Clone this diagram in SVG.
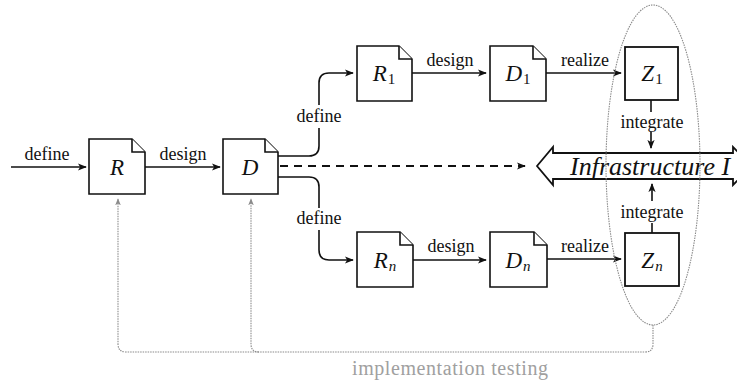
<svg xmlns="http://www.w3.org/2000/svg" width="737" height="381" viewBox="0 0 737 381">
  <style>
    .doc { fill: #fff; stroke: #111; stroke-width: 1.6; stroke-linejoin: miter; }
    .box { fill: #fff; stroke: #111; stroke-width: 1.8; }
    .edge { fill: none; stroke: #111; stroke-width: 1.6; }
    .dash { fill: none; stroke: #111; stroke-width: 1.8; stroke-dasharray: 8 6; }
    .test { fill: none; stroke: #8a8a8a; stroke-width: 1.1; stroke-dasharray: 1.5 1; }
    text { font-family: Liberation Serif, DejaVu Serif, serif; }
    .lbl { font-size: 18px; fill: #111; text-anchor: middle; }
    .math { font-size: 23px; font-style: italic; fill: #111; text-anchor: middle; }
    .sub { font-style: normal; font-size: 15px; }
    .subi { font-style: italic; font-size: 15px; }
  </style>
  <defs>
    <marker id="arr" viewBox="0 0 10 10" refX="9" refY="5" markerWidth="9" markerHeight="9" markerUnits="userSpaceOnUse" orient="auto">
      <path d="M0,1 L10,5 L0,9 L2.5,5 Z" fill="#111"/>
    </marker>
    <marker id="arrg" viewBox="0 0 10 10" refX="9" refY="5" markerWidth="7" markerHeight="7" markerUnits="userSpaceOnUse" orient="auto">
      <path d="M0,1 L10,5 L0,9 L2.5,5 Z" fill="#8a8a8a"/>
    </marker>
  </defs>

  <!-- connectors -->
  <g id="connectors">
    <path class="edge" d="M11,167 H86" marker-end="url(#arr)"/>
    <text class="lbl" x="47" y="160">define</text>

    <path class="edge" d="M145,167 H220" marker-end="url(#arr)"/>
    <text class="lbl" x="183" y="160">design</text>

    <!-- branch to R1 -->
    <path class="edge" d="M278,156 H309 Q319,156 319,146 V128"/>
    <path class="edge" d="M319,105 V83 Q319,73 329,73 H353" marker-end="url(#arr)"/>
    <text class="lbl" x="319" y="122">define</text>

    <!-- branch to Rn -->
    <path class="edge" d="M278,177 H309 Q319,177 319,187 V208"/>
    <path class="edge" d="M319,230 V250 Q319,260 329,260 H353" marker-end="url(#arr)"/>
    <text class="lbl" x="319" y="224">define</text>

    <!-- dashed link to the infrastructure -->
    <path class="dash" d="M280,166 H525" marker-end="url(#arr)"/>

    <path class="edge" d="M412,73 H486" marker-end="url(#arr)"/>
    <text class="lbl" x="450" y="66">design</text>
    <path class="edge" d="M546,73 H621" marker-end="url(#arr)"/>
    <text class="lbl" x="585" y="66">realize</text>

    <path class="edge" d="M413,260 H486" marker-end="url(#arr)"/>
    <text class="lbl" x="451" y="252">design</text>
    <path class="edge" d="M547,259 H621" marker-end="url(#arr)"/>
    <text class="lbl" x="585" y="252">realize</text>

    <!-- integrate -->
    <path class="edge" d="M651,100 V112"/>
    <path class="edge" d="M651,132 V148" marker-end="url(#arr)"/>
    <text class="lbl" x="652" y="128">integrate</text>
    <path class="edge" d="M652,233 V223"/>
    <path class="edge" d="M652,201 V184" marker-end="url(#arr)"/>
    <text class="lbl" x="652" y="218">integrate</text>

    <!-- implementation testing feedback -->
    <path class="test" d="M653,325 V344 Q653,352 645,352 H126 Q118,352 118,344 V199" marker-end="url(#arrg)"/>
    <path class="test" d="M259,352 Q251,352 251,344 V199" marker-end="url(#arrg)"/>
    <text x="450" y="375" font-size="20" fill="#a0a0a0" text-anchor="middle" textLength="196" lengthAdjust="spacing">implementation testing</text>
  </g>

  <!-- requirement R -->
  <g id="R">
    <path class="doc" d="M89,139 H132 L145,152 V194 H89 Z"/>
    <path class="doc" d="M132,139 V152 H145" fill="none"/>
    <text class="math" x="117" y="175">R</text>
  </g>

  <!-- design D -->
  <g id="D">
    <path class="doc" d="M223,139 H265 L278,152 V194 H223 Z"/>
    <path class="doc" d="M265,139 V152 H278" fill="none"/>
    <text class="math" x="250" y="175">D</text>
  </g>

  <g id="R1">
    <path class="doc" d="M357,46 H399 L412,59 V101 H357 Z"/>
    <path class="doc" d="M399,46 V59 H412" fill="none"/>
    <text class="math" x="384" y="81">R<tspan class="sub" dx="1" dy="3">1</tspan></text>
  </g>

  <g id="D1">
    <path class="doc" d="M490,46 H533 L546,59 V101 H490 Z"/>
    <path class="doc" d="M533,46 V59 H546" fill="none"/>
    <text class="math" x="518" y="81">D<tspan class="sub" dx="1" dy="3">1</tspan></text>
  </g>

  <g id="Rn">
    <path class="doc" d="M357,232 H400 L413,245 V287 H357 Z"/>
    <path class="doc" d="M400,232 V245 H413" fill="none"/>
    <text class="math" x="385" y="268">R<tspan class="subi" dx="1" dy="3">n</tspan></text>
  </g>

  <g id="Dn">
    <path class="doc" d="M490,232 H534 L547,245 V287 H490 Z"/>
    <path class="doc" d="M534,232 V245 H547" fill="none"/>
    <text class="math" x="518" y="268">D<tspan class="subi" dx="1" dy="3">n</tspan></text>
  </g>

  <g id="Z1">
    <rect class="box" x="625" y="47" width="53" height="53"/>
    <text class="math" x="652" y="81">Z<tspan class="sub" dx="1" dy="3">1</tspan></text>
  </g>

  <g id="Zn">
    <rect class="box" x="625" y="233" width="54" height="53"/>
    <text class="math" x="652" y="268">Z<tspan class="subi" dx="1" dy="3">n</tspan></text>
  </g>

  <!-- shared infrastructure, double-headed block arrow -->
  <g id="infrastructure">
    <path d="M537,166 L553,147 V153 H733 V147 L752,166 L733,185 V179 H553 V185 Z" fill="#fff" stroke="#111" stroke-width="1.8" stroke-linejoin="miter"/>
    <text x="570" y="175" font-size="26" font-style="italic" fill="#111">Infrastructure I</text>
  </g>

  <!-- grouping of the realized components -->
  <g id="realization">
    <ellipse cx="653" cy="165" rx="47" ry="160" class="test"/>
  </g>
</svg>
